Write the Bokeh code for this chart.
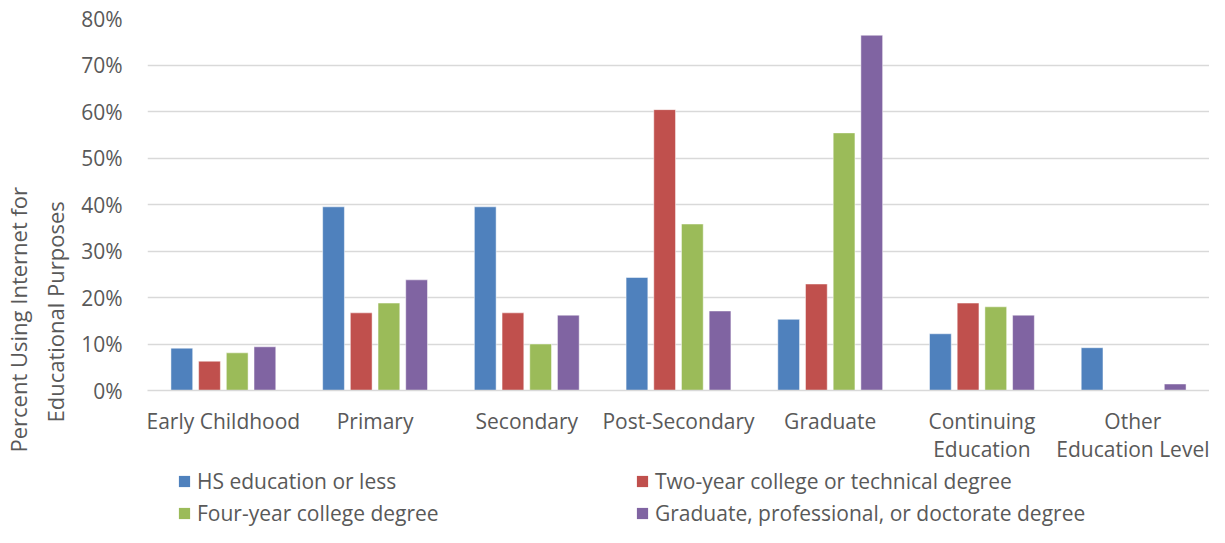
from bokeh.plotting import figure
from bokeh.layouts import column
from bokeh.models import ColumnDataSource, Range1d, FactorRange, Legend, LegendItem, Title, PrintfTickFormatter
from bokeh.transform import dodge
from bokeh.embed import file_html
from bokeh.resources import INLINE

categories = ["Early Childhood", "Primary", "Secondary", "Post-Secondary", "Graduate",
              "Continuing\nEducation", "Other\nEducation Level"]
hs_or_less = [9.1, 39.5, 39.5, 24.3, 15.3, 12.2, 9.2]
two_year = [6.3, 16.7, 16.7, 60.4, 22.9, 18.8, 0.0]
four_year = [8.1, 18.8, 10.0, 35.8, 55.4, 18.0, 0.0]
graduate_deg = [9.4, 23.8, 16.2, 17.1, 76.4, 16.2, 1.4]
series_names = ["HS education or less", "Two-year college or technical degree",
                "Four-year college degree", "Graduate, professional, or doctorate degree"]
colors = ["#4f81bd", "#c0504d", "#9bbb59", "#8064a2"]
y_ticks = [0, 10, 20, 30, 40, 50, 60, 70, 80]

FONT = "Open Sans"
TXT = "#595959"
FS = "21px"

src = ColumnDataSource(dict(cat=categories, s0=hs_or_less, s1=two_year, s2=four_year, s3=graduate_deg))

p = figure(width=1209, height=465, x_range=FactorRange(*categories, range_padding=0),
           y_range=Range1d(0, 80), output_backend="svg", toolbar_location=None,
           min_border_left=143, min_border_right=0, min_border_top=18, min_border_bottom=75)
p.outline_line_color = None
p.background_fill_color = "white"

offsets = [-0.2738, -0.0913, 0.0913, 0.2738]
for i, key in enumerate(["s0", "s1", "s2", "s3"]):
    p.vbar(x=dodge("cat", offsets[i], range=p.x_range), top=key, width=0.1434, source=src,
           fill_color=colors[i], line_color="white", line_width=0.8, line_alpha=0.6)

p.yaxis.ticker = y_ticks
p.yaxis.formatter = PrintfTickFormatter(format="%d%%")
p.yaxis.axis_line_color = None
p.yaxis.major_tick_line_color = None
p.yaxis.minor_tick_line_color = None
p.yaxis.major_label_standoff = 19
p.yaxis.major_label_text_font = FONT
p.yaxis.major_label_text_font_size = FS
p.yaxis.major_label_text_color = TXT

p.xaxis.axis_line_color = "#d9d9d9"
p.xaxis.axis_line_width = 1.3
p.xaxis.major_tick_line_color = None
p.xaxis.minor_tick_line_color = None
p.xaxis.major_label_standoff = 10
p.xaxis.major_label_text_font = FONT
p.xaxis.major_label_text_font_size = FS
p.xaxis.major_label_text_color = TXT
p.xaxis.major_label_text_line_height = 1.0

p.xgrid.grid_line_color = None
p.ygrid.grid_line_color = "#d9d9d9"
p.ygrid.grid_line_width = 1.3

for txt, off, so, va in [("Educational Purposes", -32, 14, "top"),
                         ("Percent Using Internet for", -62, 0, "bottom")]:
    p.add_layout(Title(text=txt, align="left", offset=off, text_font=FONT, text_font_size="22px",
                       text_font_style="normal", text_color=TXT, standoff=so, vertical_align=va), "left")

# legend strip below the chart
lg = figure(width=1209, height=62, x_range=Range1d(0, 1), y_range=Range1d(0, 1),
            output_backend="svg", toolbar_location=None, min_border=0)
lg.axis.visible = False
lg.grid.grid_line_color = None
lg.outline_line_color = None
items = []
for i in range(4):
    r = lg.vbar(x=[0.5], top=[float("nan")], width=0.1, fill_color=colors[i], line_color=None)
    items.append(LegendItem(label=series_names[i], renderers=[r]))
legend = Legend(items=items, location=(30, 0), ncols=2, orientation="horizontal",
                glyph_width=14, glyph_height=14, label_standoff=6, label_width=434,
                label_height=20, spacing=4, padding=0, margin=0,
                border_line_color=None, background_fill_alpha=0,
                label_text_font=FONT, label_text_font_size=FS, label_text_color=TXT)
lg.add_layout(legend, "center")

layout = column(p, lg, spacing=0)
open("out.html", "w").write(file_html(layout, INLINE))
